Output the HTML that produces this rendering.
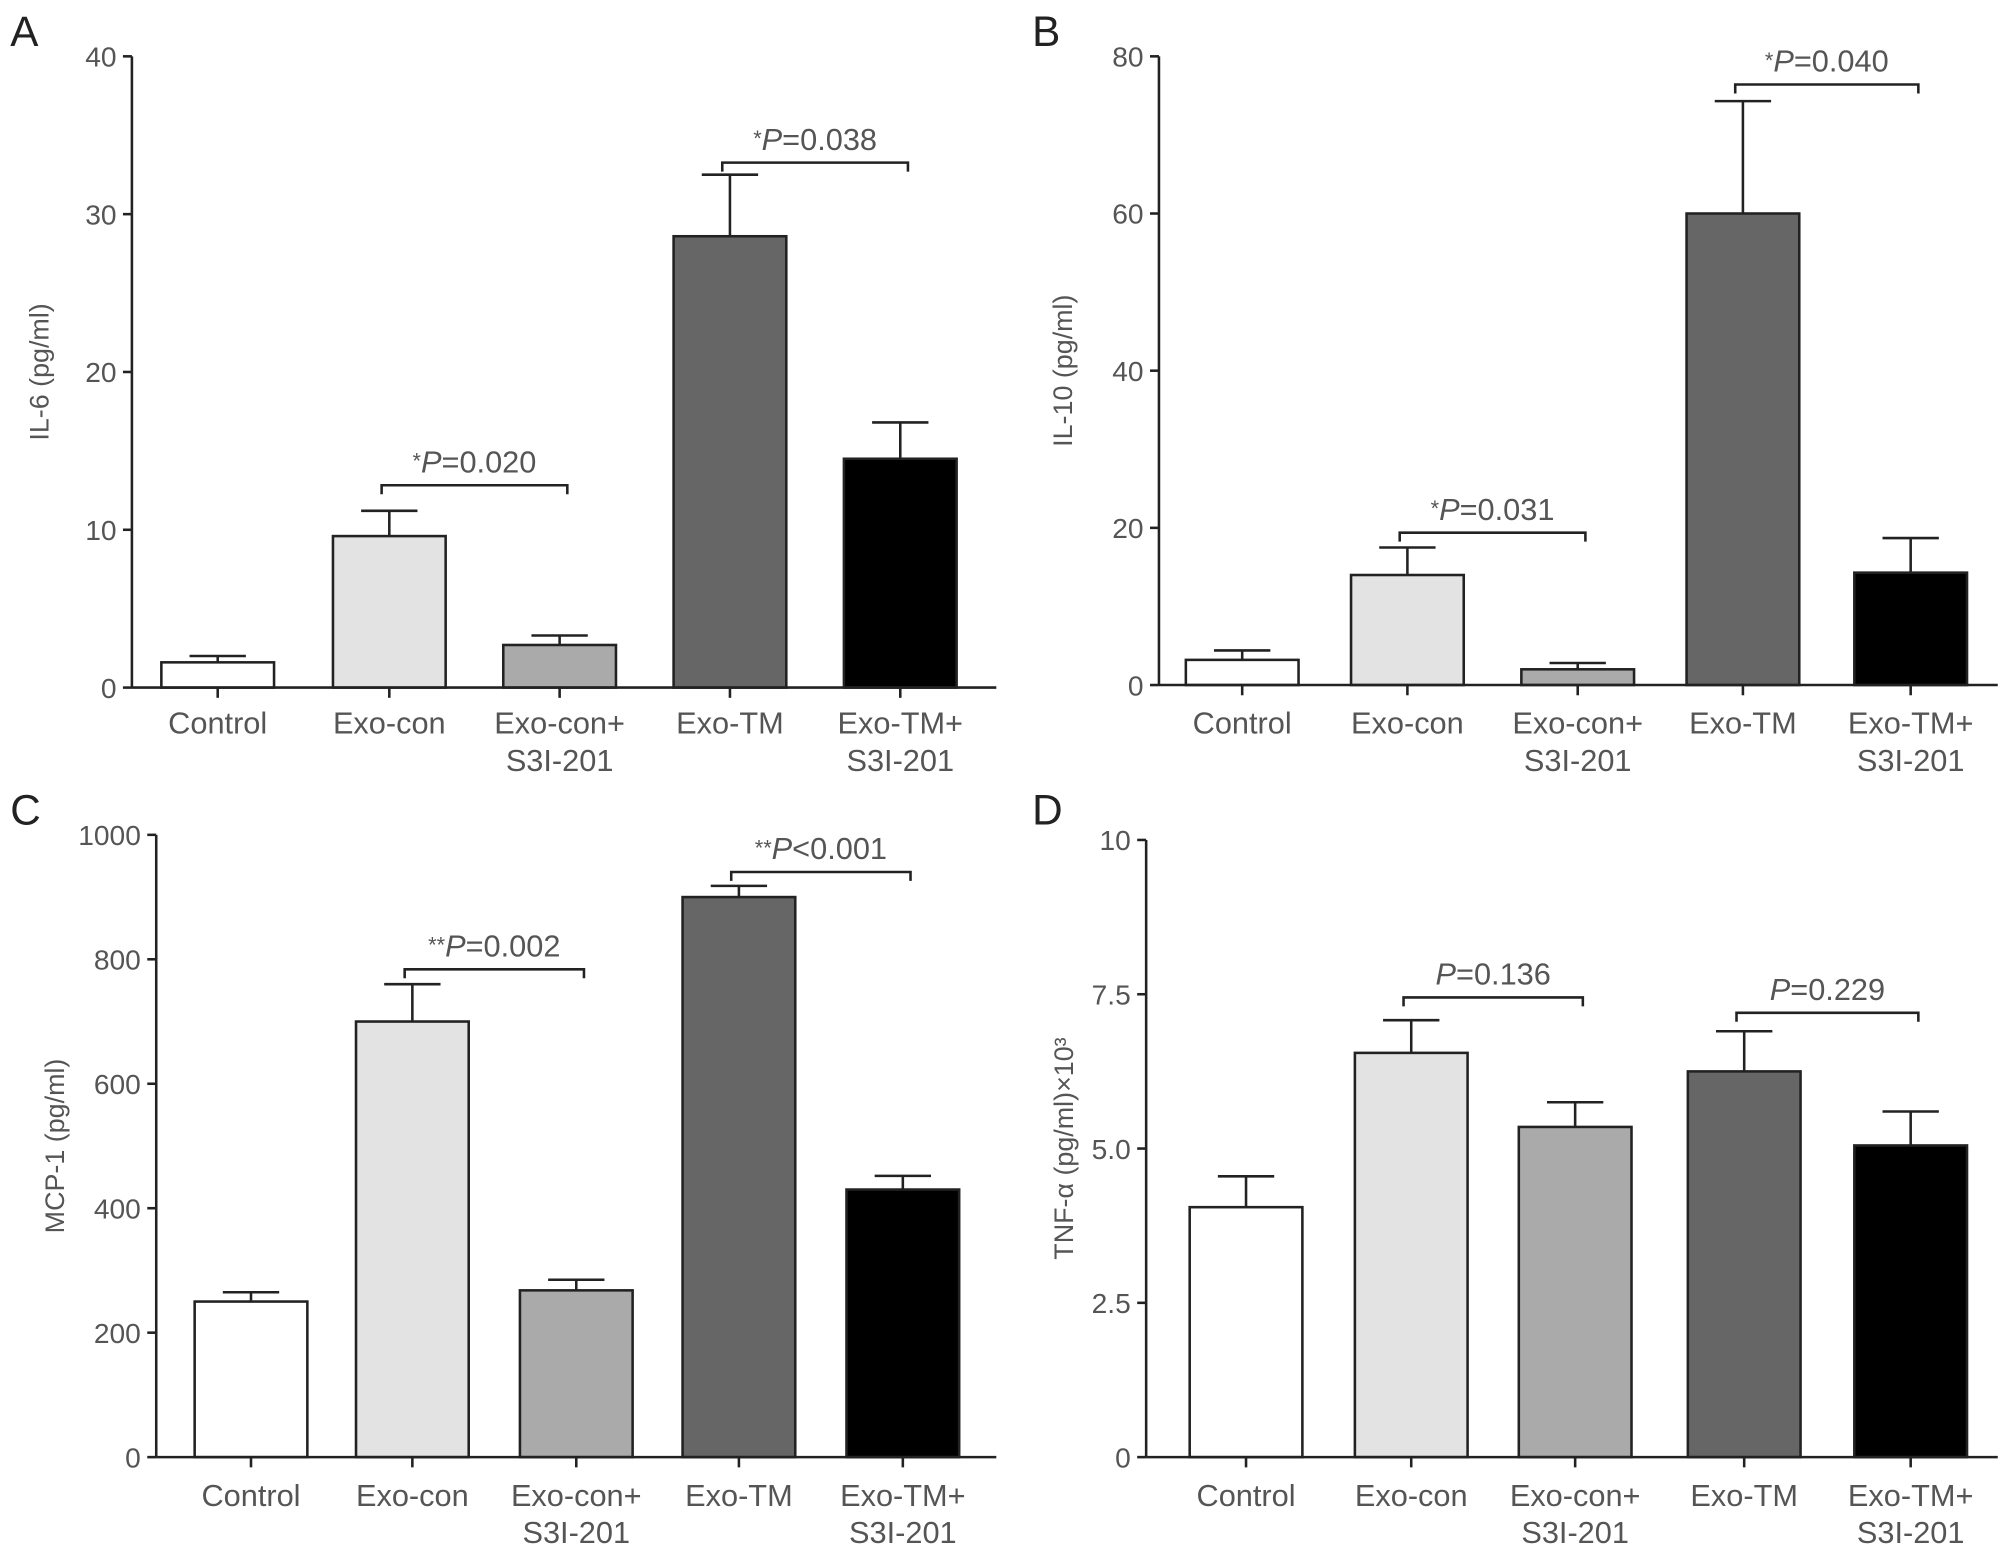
<!DOCTYPE html>
<html><head><meta charset="utf-8"><style>
html,body{margin:0;padding:0;background:#fff}
svg{display:block}
text{font-family:"Liberation Sans",sans-serif;fill:#555}
</style></head><body>
<svg id="chart" width="2008" height="1557" viewBox="0 0 1568 1216" preserveAspectRatio="none" xmlns="http://www.w3.org/2000/svg"></svg>
<script>
const categories = ["Control","Exo-con","Exo-con+|S3I-201","Exo-TM","Exo-TM+|S3I-201"];
const fills = ["#ffffff","#e3e3e3","#aaaaaa","#666666","#000000"];
const aMeans = [1.6, 9.6, 2.7, 28.6, 14.5];
const aErrs = [0.4, 1.6, 0.6, 3.9, 2.3];
const aTicks = [0, 10, 20, 30, 40];
const bMeans = [3.2, 14, 2, 60, 14.3];
const bErrs = [1.2, 3.5, 0.8, 14.3, 4.4];
const bTicks = [0, 20, 40, 60, 80];
const cMeans = [250, 700, 268, 900, 430];
const cErrs = [15, 60, 17, 18, 22];
const cTicks = [0, 200, 400, 600, 800, 1000];
const dMeans = [4.05, 6.55, 5.35, 6.25, 5.05];
const dErrs = [0.5, 0.53, 0.4, 0.65, 0.55];
const dTicks = [0, 2.5, 5.0, 7.5, 10];
const dTickLabels = ["0","2.5","5.0","7.5","10"];

const NS="http://www.w3.org/2000/svg";
const svg=document.getElementById('chart');
function mk(tag,attrs,parent){const e=document.createElementNS(NS,tag);for(const k in attrs)e.setAttribute(k,attrs[k]);(parent||svg).appendChild(e);return e;}

const panels=[
 {id:'a',letter:'A',lx:8,ly:36,ax:103,top:44,zero:537,right:778,max:40,centers:[170,304,437,570,703],means:aMeans,errs:aErrs,ticks:aTicks,labels:aTicks.map(String),title:'IL-6 (pg/ml)',tx:38,lab1:573,
  brackets:[{from:1,to:2,y:379,star:'*',text:'=0.020'},{from:3,to:4,y:127,star:'*',text:'=0.038'}]},
 {id:'b',letter:'B',lx:806,ly:36,ax:905,top:44,zero:535,right:1560,max:80,centers:[970,1099,1232,1361,1492],means:bMeans,errs:bErrs,ticks:bTicks,labels:bTicks.map(String),title:'IL-10 (pg/ml)',tx:837,lab1:573,
  brackets:[{from:1,to:2,y:416,star:'*',text:'=0.031'},{from:3,to:4,y:66,star:'*',text:'=0.040'}]},
 {id:'c',letter:'C',lx:8,ly:644,ax:122,top:652,zero:1138,right:778,max:1000,centers:[196,322,450,577,705],means:cMeans,errs:cErrs,ticks:cTicks,labels:cTicks.map(String),title:'MCP-1 (pg/ml)',tx:50,lab1:1176,
  brackets:[{from:1,to:2,y:757,star:'**',text:'=0.002'},{from:3,to:4,y:681,star:'**',text:'<0.001'}]},
 {id:'d',letter:'D',lx:806,ly:644,ax:895,top:656,zero:1138,right:1560,max:10,centers:[973,1102,1230,1362,1492],means:dMeans,errs:dErrs,ticks:dTicks,labels:dTickLabels,title:'TNF-α (pg/ml)×10³',tx:838,lab1:1176,
  brackets:[{from:1,to:2,y:779,star:'',text:'=0.136'},{from:3,to:4,y:791,star:'',text:'=0.229'}]}
];
const BW=88;
panels.forEach(p=>{
  const g=mk('g',{});
  
  
  const y=v=>p.zero-(v/p.max)*(p.zero-p.top);
  const L=mk('text',{x:p.lx,y:p.ly,'font-size':33,style:'fill:#222'},g);L.textContent=p.letter;
  
  
  p.means.forEach((m,i)=>{
    const cx=p.centers[i];const yt=y(m),ye=y(m+p.errs[i]);
    const el=mk('line',{x1:cx,x2:cx,y1:yt,y2:ye,stroke:'#222','stroke-width':2},g);
    
    
    const cap=mk('line',{x1:cx-22,x2:cx+22,y1:ye,y2:ye,stroke:'#222','stroke-width':2},g);
    
    
    const r=mk('rect',{x:cx-BW/2,y:yt,width:BW,height:p.zero-yt,fill:fills[i],stroke:'#222','stroke-width':2},g);
    
    
    const tk=mk('line',{x1:cx,x2:cx,y1:p.zero,y2:p.zero+8,stroke:'#222','stroke-width':2},g);
    
    
    const parts=categories[i].split('|');
    parts.forEach((s,k)=>{
      const t=mk('text',{x:cx,y:p.lab1+k*29,'font-size':24,'text-anchor':'middle'},g);t.textContent=s;
      
      
    });
  });
  const ya=mk('line',{x1:p.ax,x2:p.ax,y1:p.top,y2:p.zero,stroke:'#222','stroke-width':2},g);
  
  
  const xa=mk('line',{x1:p.ax,x2:p.right,y1:p.zero,y2:p.zero,stroke:'#222','stroke-width':2},g);
  
  
  p.ticks.forEach((v,i)=>{
    const tl=mk('line',{x1:p.ax-7,x2:p.ax,y1:y(v),y2:y(v),stroke:'#222','stroke-width':2},g);
    
    
    const t=mk('text',{x:p.ax-12,y:y(v)+8,'font-size':22,'text-anchor':'end'},g);t.textContent=p.labels[i];
    
    
  });
  const ttl=mk('text',{x:p.tx,y:(p.top+p.zero)/2,'font-size':21,'text-anchor':'middle',transform:`rotate(-90 ${p.tx} ${(p.top+p.zero)/2})`},g);
  ttl.textContent=p.title;
  
  
  p.brackets.forEach(b=>{
    const x1=p.centers[b.from]-6,x2=p.centers[b.to]+6;
    const br=mk('path',{d:`M${x1} ${b.y+7}V${b.y}H${x2}V${b.y+7}`,fill:'none',stroke:'#222','stroke-width':2},g);
    
    
    const t=mk('text',{x:(x1+x2)/2,y:b.y-10,'font-size':24,'text-anchor':'middle'},g);
    
    
    if(b.star){const s=document.createElementNS(NS,'tspan');s.setAttribute('font-size',17);s.setAttribute('dy',-3);s.textContent=b.star;t.appendChild(s);}
    const pp=document.createElementNS(NS,'tspan');pp.setAttribute('font-style','italic');if(b.star)pp.setAttribute('dy',3);pp.textContent='P';t.appendChild(pp);
    const r=document.createElementNS(NS,'tspan');r.textContent=b.text;t.appendChild(r);
  });
});
</script>
</body></html>
